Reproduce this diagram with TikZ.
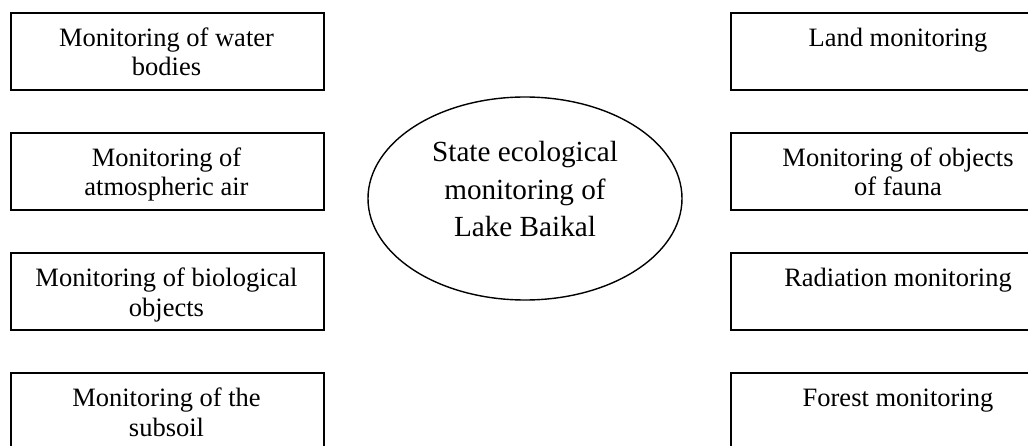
\documentclass[tikz,border=0pt]{standalone}
\usepackage{fontspec}
\setmainfont{Liberation Serif}
\usetikzlibrary{shapes.geometric}
\tikzset{
  mbox/.style={draw=black, line width=1.8pt, rectangle, minimum width=#1, minimum height=77pt, inner sep=0pt, anchor=north west},
  btext/.style={anchor=base, inner sep=0pt, font=\fontsize{26.5pt}{29.5pt}\selectfont},
  ctext/.style={anchor=base, inner sep=0pt, font=\fontsize{29.2pt}{37.5pt}\selectfont},
  oval/.style={draw=black, line width=1.4pt, ellipse, minimum width=314pt, minimum height=203pt, inner sep=0pt}
}
\newcommand{\twol}[2]{\begin{tabular}[t]{@{}c@{}}#1\\#2\end{tabular}}
\begin{document}
\begin{tikzpicture}[x=1pt, y=1pt]
\useasboundingbox (0,0) rectangle (1028,445);
\clip (0,0) rectangle (1028,445);
% left boxes
\node[mbox=313pt] (l1) at (10,433) {};
\node[mbox=313pt] (l2) at (10,313) {};
\node[mbox=313pt] (l3) at (10,193) {};
\node[mbox=313pt] (l4) at (10,73) {};
% right boxes
\node[mbox=337pt] (r1) at (730,433) {};
\node[mbox=337pt] (r2) at (730,313) {};
\node[mbox=337pt] (r3) at (730,193) {};
\node[mbox=337pt] (r4) at (730,73) {};
% texts
\node[btext] (tl1) at (166.5,398.5) {\twol{Monitoring of water}{bodies}};
\node[btext] (tl2) at (166.5,278.5) {\twol{Monitoring of}{atmospheric air}};
\node[btext] (tl3) at (166.5,158.5) {\twol{Monitoring of biological}{objects}};
\node[btext] (tl4) at (166.5,38.5) {\twol{Monitoring of the}{subsoil}};
\node[btext] (tr1) at (898,398.5) {Land monitoring};
\node[btext] (tr2) at (898,278.5) {\twol{Monitoring of objects}{of fauna\hspace{23pt}}};
\node[btext] (tr3) at (898,158.5) {Radiation monitoring};
\node[btext] (tr4) at (898,38.5) {Forest monitoring};
% centre
\node[oval] (c) at (525,246.5) {};
\node[ctext, align=center] (ct) at (525,283.3) {\begin{tabular}[t]{@{}c@{}}State ecological\\monitoring of\\Lake Baikal\end{tabular}};
\end{tikzpicture}
\end{document}
